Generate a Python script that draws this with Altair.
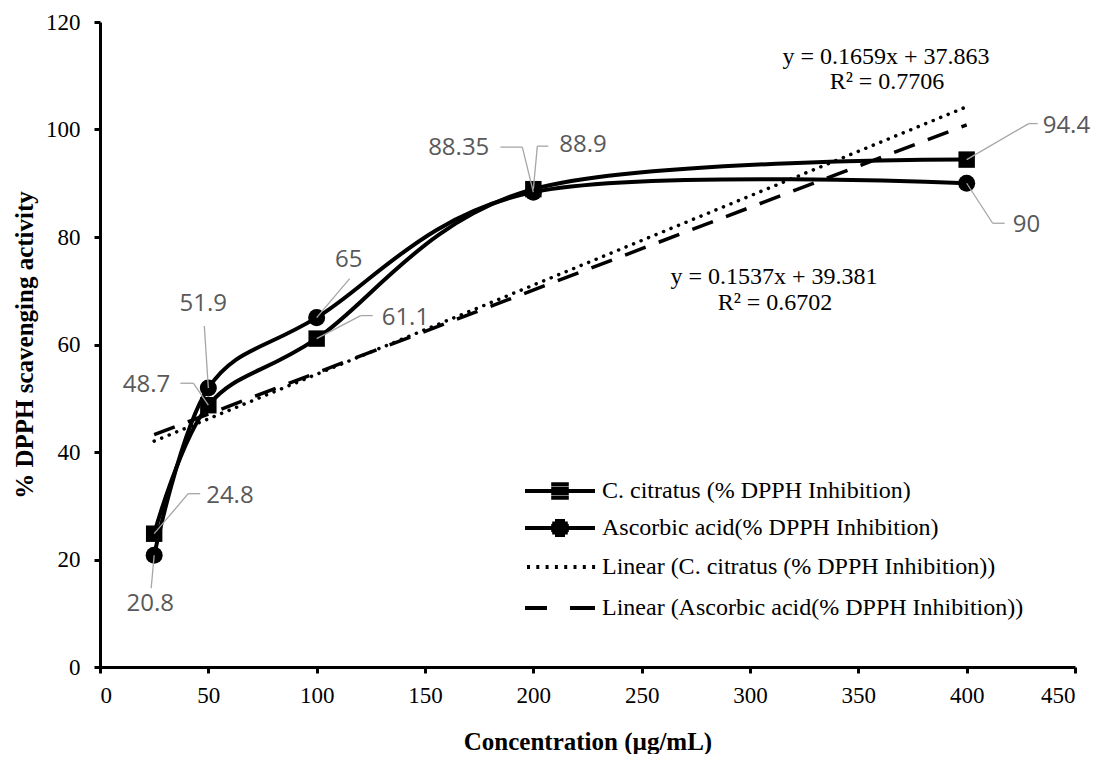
import altair as alt
import pandas as pd

# ---------------- data ----------------
conc = [25, 50, 100, 200, 400]
citratus = [24.8, 48.7, 61.1, 88.9, 94.4]
ascorbic = [20.8, 51.9, 65, 88.35, 90]
series_names = ["C. citratus (% DPPH Inhibition)", "Ascorbic acid(% DPPH Inhibition)"]
trend_names = ["Linear (C. citratus (% DPPH Inhibition))", "Linear (Ascorbic acid(% DPPH Inhibition))"]
eq_citratus = ["y = 0.1659x + 37.863", "R² = 0.7706"]
eq_ascorbic = ["y = 0.1537x + 39.381", "R² = 0.6702"]
x_ticks = [0, 50, 100, 150, 200, 250, 300, 350, 400, 450]
y_ticks = [0, 20, 40, 60, 80, 100, 120]
x_title = "Concentration (µg/mL)"
y_title = "% DPPH scavenging activity"

rows = []
for si, (s, vals) in enumerate(zip(series_names, [citratus, ascorbic])):
    for i, (c, v) in enumerate(zip(conc, vals)):
        rows.append({"conc": c, "value": v, "series": s, "label": f"{v:g}", "id": f"{si}_{i}"})
df = pd.DataFrame(rows)

# ---------------- styles (label placement, px offsets) ----------------
label_style = {
    "0_0": dict(dx=52, dy=-38, align="left", path=[(0, 0), (34, -40), (46, -40)]),
    "0_1": dict(dx=-38, dy=-20, align="right", path=[(0, 0), (-15, -22), (-28, -22)]),
    "0_2": dict(dx=65, dy=-21, align="left", path=[(0, 0), (44, -23), (56, -23)]),
    "0_3": dict(dx=26, dy=-44, align="left", path=[(0, 0), (4, -43), (15, -43)]),
    "0_4": dict(dx=76, dy=-34, align="left", path=[(0, 0), (62, -36), (71, -36)]),
    "1_0": dict(dx=-4, dy=49, align="center", path=[(0, 0), (-3, 33)]),
    "1_1": dict(dx=-5, dy=-84, align="center", path=[(0, 0), (-4, -62)]),
    "1_2": dict(dx=32, dy=-58, align="center", path=[(0, 0), (33, -39)]),
    "1_3": dict(dx=-44, dy=-44, align="right", path=[(0, 0), (-11, -45), (-33, -45)]),
    "1_4": dict(dx=46, dy=42, align="left", path=[(0, 0), (26, 40), (38, 40)]),
}

W, H = 975, 645
xs = alt.Scale(domain=[0, 450], nice=False, zero=False)
ys = alt.Scale(domain=[0, 120], nice=False)

base = alt.Chart(df)
X = alt.X("conc:Q", scale=xs, axis=alt.Axis(values=x_ticks, title=x_title, labelPadding=11, titlePadding=22))
Y = alt.Y("value:Q", scale=ys, axis=alt.Axis(values=y_ticks, title=y_title, labelPadding=14, titlePadding=8))

curves = base.mark_line(interpolate="cardinal", color="black", strokeWidth=4).encode(
    x=X, y=Y, detail="series:N"
)

trend_cc = base.transform_filter(alt.datum.series == series_names[0]).transform_regression(
    "conc", "value", extent=[25, 400]
).mark_line(color="black", strokeWidth=3.5, strokeDash=[0.1, 8], strokeCap="round").encode(x="conc:Q", y="value:Q")

trend_aa = base.transform_filter(alt.datum.series == series_names[1]).transform_regression(
    "conc", "value", extent=[25, 400]
).mark_line(color="black", strokeWidth=3.5, strokeDash=[22, 14]).encode(x="conc:Q", y="value:Q")

squares = base.transform_filter(alt.datum.series == series_names[0]).mark_square(
    size=270, color="black", opacity=1
).encode(x="conc:Q", y="value:Q")
circles = base.transform_filter(alt.datum.series == series_names[1]).mark_circle(
    size=290, color="black", opacity=1
).encode(x="conc:Q", y="value:Q")

label_layers = []
for key, st in label_style.items():
    sub = base.transform_filter(alt.datum.id == key)
    pts = st["path"]
    for (ax, ay), (bx, by) in zip(pts[:-1], pts[1:]):
        label_layers.append(
            sub.mark_rule(color="#a6a6a6", strokeWidth=1.3, xOffset=ax, yOffset=ay, x2Offset=bx, y2Offset=by).encode(
                x="conc:Q", y="value:Q", x2="conc:Q", y2="value:Q"
            )
        )
    label_layers.append(
        sub.mark_text(font="Open Sans", fontSize=24, color="#595959", align=st["align"], baseline="middle",
                      dx=st["dx"], dy=st["dy"]).encode(x="conc:Q", y="value:Q", text="label:N")
    )

eq_layers = []
for txt, (px, py) in zip(eq_citratus + eq_ascorbic, [(786, 35), (787, 60), (674, 255), (675, 281)]):
    eq_layers.append(
        alt.Chart(pd.DataFrame({"t": [txt]})).mark_text(
            font="Liberation Serif", fontSize=24, color="black", align="center", baseline="middle"
        ).encode(x=alt.value(px), y=alt.value(py), text="t:N")
    )

# legend symbols drawn with strokes only (unit = sqrt(size)/2 px = 10 px)
legend_names = series_names + trend_names
sq = "".join(f"M-0.88,{y}H0.88" for y in (-0.68, -0.23, 0.23, 0.68))
circ = "".join(f"M{-hw},{y}H{hw}" for y, hw in ((-0.7, 0.5), (-0.45, 0.78), (-0.2, 0.88),
                                               (0.2, 0.88), (0.45, 0.78), (0.7, 0.5)))
dots = "".join(f"M{-3.3 + 0.93 * k:.2f},0h0.3" for k in range(8))
extent = "M0,-0.9h0M0,0.9h0"  # zero-length (invisible) subpaths to equalise row heights
legend_paths = [
    "M-3.5,0H3.5" + sq,
    "M-3.5,0H3.5" + circ,
    dots + extent,
    "M-3.5,0H-1.3M1.0,0H3.5" + extent,
]
legend_layer = alt.Chart(pd.DataFrame({"legend": legend_names})).transform_filter("false").mark_point(
    filled=False, stroke="black", color="black", strokeWidth=4, opacity=1
).encode(
    shape=alt.Shape(
        "legend:N",
        scale=alt.Scale(domain=legend_names, range=legend_paths),
        legend=alt.Legend(
            title=None, orient="none", legendX=448, legendY=457, symbolSize=400, labelOffset=30,
            labelFont="Liberation Serif", labelFontSize=24, labelColor="black", labelLimit=0,
            rowPadding=7, padding=0, symbolStrokeWidth=4,
            symbolStrokeColor="black", symbolOpacity=1,
        ),
    )
)

chart = alt.layer(
    curves, trend_cc, trend_aa, squares, circles, *label_layers, *eq_layers, legend_layer
).properties(
    width=W, height=H,
    padding={"left": 92, "top": 14, "right": 16, "bottom": 87},
    autosize=alt.AutoSizeParams(type="none"),
).configure_view(stroke=None).configure_axis(
    grid=False, domainColor="black", domainWidth=3, tickColor="black", tickWidth=3, tickSize=6,
    labelFont="Liberation Serif", labelFontSize=23, labelColor="black",
    titleFont="Liberation Serif", titleFontSize=25, titleFontWeight="bold", titleColor="black",
)

chart.save("out.html", embed_options={"renderer": "svg", "actions": False})
